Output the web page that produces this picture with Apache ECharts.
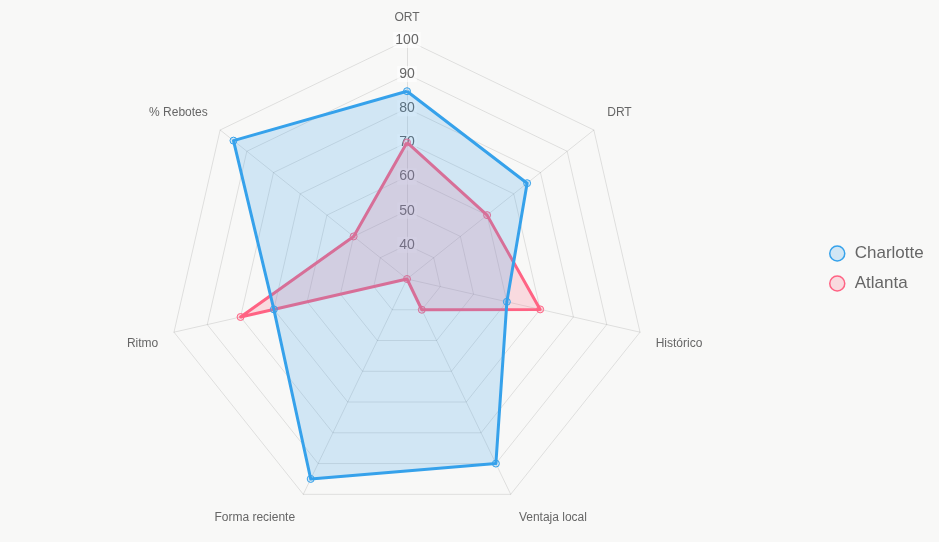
<!DOCTYPE html>
<html>
<head>
    <meta charset="utf-8"/>
    <style>
        html, body {
            height: 100%;
            margin: 0;
            padding: 0;
            background: #f8f8f7;
        }
        .container {
            width: 939px;
            height: 542px;
        }
    </style>
</head>
<body>
<div id="main" class="container"></div>
<script src="https://cdn.jsdelivr.net/npm/echarts@6/dist/echarts.min.js"></script>
<script type="text/javascript">
    // datos (orden horario desde arriba)
    var categories = ['ORT', 'DRT', 'Histórico', 'Ventaja local', 'Forma reciente', 'Ritmo', '% Rebotes'];
    var charlotte = [85, 75, 60, 90, 95, 70, 95];
    var atlanta = [70, 60, 70, 40, 30, 80, 50];
    var tickLabels = [40, 50, 60, 70, 80, 90, 100];
    var scaleMin = 30;
    var scaleMax = 100;

    var FONT = 'Arial, "Liberation Sans", sans-serif';

    // ajuste fino de la posición de los nombres (padding del texto)
    var namePadding = [
        [0, 0, 4, 0],
        [0, 0, 20, 4],
        [17, 0, 0, 4],
        [26, 0, 0, 3],
        [26, 3, 0, 0],
        [17, 4, 0, 0],
        [0, 3, 20, 0]
    ];

    // ECharts dibuja el radar en sentido antihorario: invertimos el orden
    function clockwise(arr) {
        var out = [arr[0]];
        for (var i = arr.length - 1; i > 0; i--) out.push(arr[i]);
        return out;
    }

    var myChart = echarts.init(document.getElementById('main'));

    var rich = {};
    categories.forEach(function (c, i) {
        rich['n' + i] = {
            color: '#666666',
            fontSize: 12,
            fontFamily: FONT,
            padding: namePadding[i]
        };
    });

    var indicators = clockwise(categories).map(function (name, i) {
        var ind = {name: name, min: scaleMin, max: scaleMax};
        if (i === 0) {
            ind.axisLabel = {
                show: true,
                showMinLabel: false,
                margin: 0,
                align: 'center',
                verticalAlign: 'middle',
                color: '#666666',
                fontSize: 14,
                fontFamily: FONT,
                backgroundColor: 'rgba(255,255,255,0.6)',
                padding: [1, 2],
                formatter: function (v) {
                    return tickLabels.indexOf(v) >= 0 ? String(v) : '';
                }
            };
        }
        return ind;
    });

    var option = {
        backgroundColor: '#f8f8f7',
        animation: false,
        legend: {
            orient: 'vertical',
            left: 824,
            top: 240,
            itemWidth: 15,
            itemHeight: 15,
            itemGap: 13,
            icon: 'circle',
            textStyle: {
                color: '#666666',
                fontSize: 17,
                fontFamily: FONT,
                padding: [0, 0, 0, 5]
            },
            data: [
                {name: 'Charlotte', itemStyle: {color: 'rgba(54,162,235,0.2)', borderColor: '#36a2eb', borderWidth: 1.5}},
                {name: 'Atlanta', itemStyle: {color: 'rgba(255,99,132,0.2)', borderColor: '#ff6384', borderWidth: 1.5}}
            ]
        },
        radar: {
            center: [407, 279],
            radius: 239,
            shape: 'polygon',
            splitNumber: 7,
            nameGap: 12,
            axisName: {
                color: '#666666',
                fontSize: 12,
                fontFamily: FONT,
                formatter: function (name) {
                    return '{n' + categories.indexOf(name) + '|' + name + '}';
                },
                rich: rich
            },
            axisLine: {lineStyle: {color: 'rgba(0,0,0,0.1)', width: 1}},
            splitLine: {lineStyle: {color: 'rgba(0,0,0,0.1)', width: 1}},
            splitArea: {show: false},
            axisLabel: {show: false},
            indicator: indicators
        },
        series: [{
            type: 'radar',
            z: 2,
            symbol: 'circle',
            symbolSize: 7,
            lineStyle: {width: 3, color: '#ff6384'},
            itemStyle: {color: 'rgba(255,99,132,0.2)', borderColor: '#ff6384', borderWidth: 1},
            areaStyle: {color: 'rgba(255,99,132,0.2)', opacity: 1},
            data: [{name: 'Atlanta', value: clockwise(atlanta)}]
        }, {
            type: 'radar',
            z: 3,
            symbol: 'circle',
            symbolSize: 7,
            lineStyle: {width: 3, color: '#36a2eb'},
            itemStyle: {color: 'rgba(54,162,235,0.2)', borderColor: '#36a2eb', borderWidth: 1},
            areaStyle: {color: 'rgba(54,162,235,0.2)', opacity: 1},
            data: [{name: 'Charlotte', value: clockwise(charlotte)}]
        }]
    };

    myChart.setOption(option);
</script>
</body>
</html>
